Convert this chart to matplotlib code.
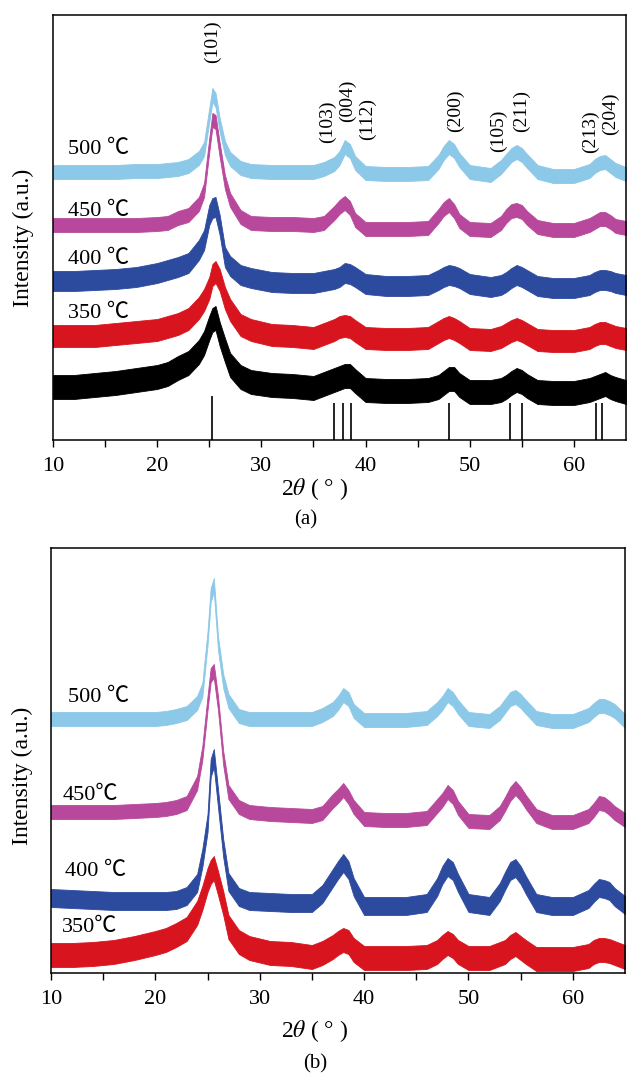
import matplotlib
matplotlib.use("Agg")
import matplotlib.pyplot as plt
import numpy as np

plt.rcParams['font.family'] = ['Liberation Serif', 'Noto Sans CJK SC']
plt.rcParams['mathtext.fontset'] = 'stix'

two_theta = [10, 12, 14, 16, 18, 20, 21, 22, 23, 24, 24.5, 25, 25.3, 25.6, 26,
             26.5, 27, 28, 29, 31, 33, 35, 36, 37, 37.5, 38, 38.5, 39, 40, 42,
             44, 46, 47, 47.5, 48, 48.5, 49, 50, 52, 53, 53.5, 54, 54.5, 55,
             55.5, 56.5, 58, 60, 61.5, 62, 62.5, 63, 63.5, 64, 65]

# panel (a): stacked traces (a.u., offsets included), mid line of the noisy band
a_500 = [268, 268, 268, 268, 269, 269, 270, 271, 274, 282, 291, 325, 345, 340, 315,
         292, 281, 272, 269, 268, 268, 268, 271, 276, 282, 293, 289, 277, 267, 266,
         266, 267, 278, 287, 293, 289, 280, 268, 265, 273, 279, 285, 288, 285,
         279, 268, 264, 264, 269, 274, 277, 278, 274, 270, 266]
a_450 = [215, 215, 215, 215, 215, 216, 217, 222, 225, 236, 250, 295, 320, 318, 290,
         258, 240, 223, 217, 216, 216, 215, 217, 227, 233, 237, 232, 220, 211, 211,
         211, 212, 224, 231, 235, 229, 219, 211, 210, 217, 224, 229, 230, 228,
         222, 213, 210, 210, 215, 218, 221, 221, 218, 214, 212]
a_400 = [159, 159, 160, 161, 163, 167, 170, 173, 177, 190, 200, 225, 232, 233, 215,
         183, 174, 165, 162, 158, 157, 157, 159, 161, 163, 167, 166, 163, 156, 154,
         154, 155, 160, 163, 165, 164, 162, 156, 153, 155, 158, 162, 165, 163,
         160, 154, 152, 152, 155, 158, 160, 160, 159, 157, 155]
a_350 = [104, 104, 104, 106, 108, 110, 113, 116, 121, 132, 140, 152, 165, 168, 160,
         142, 130, 115, 110, 105, 104, 102, 106, 110, 113, 114, 113, 109, 102, 101,
         101, 102, 108, 111, 113, 111, 108, 101, 100, 103, 106, 109, 111, 109,
         106, 100, 99, 99, 102, 105, 107, 107, 105, 103, 101]
a_raw = [53, 53, 55, 57, 60, 63, 66, 72, 77, 88, 97, 112, 120, 122, 106,
         90, 75, 63, 58, 55, 54, 52, 56, 60, 62, 64, 64, 59, 50, 49,
         49, 50, 53, 57, 61, 61, 55, 48, 48, 50, 53, 57, 60, 58,
         54, 48, 47, 47, 50, 52, 54, 56, 53, 51, 48]

# panel (b)
b_500 = [254, 254, 254, 254, 254, 254, 255, 257, 260, 270, 283, 335, 378, 388, 330,
         292, 272, 257, 254, 254, 254, 254, 258, 264, 270, 278, 274, 262, 253, 253,
         253, 255, 264, 270, 278, 274, 266, 254, 252, 260, 267, 274, 276, 272,
         266, 255, 252, 252, 258, 263, 267, 267, 265, 262, 252]
b_450 = [161, 161, 161, 161, 162, 163, 164, 166, 170, 190, 220, 270, 298, 302, 270,
         215, 181, 166, 161, 159, 158, 157, 160, 172, 177, 183, 176, 166, 154, 153,
         153, 155, 167, 173, 181, 176, 165, 152, 151, 160, 169, 179, 185, 179,
         171, 157, 151, 151, 157, 163, 170, 169, 165, 160, 153]
b_400 = [75, 74, 73, 72, 72, 72, 72, 73, 77, 90, 115, 150, 205, 215, 175,
         125, 91, 76, 72, 71, 70, 70, 79, 95, 103, 110, 103, 86, 67, 67,
         67, 70, 86, 98, 106, 102, 90, 70, 67, 81, 92, 102, 105, 98,
         88, 70, 67, 67, 74, 80, 85, 84, 82, 76, 68]
b_350 = [18, 18, 19, 21, 25, 30, 33, 38, 44, 60, 75, 93, 101, 105, 90,
         70, 46, 31, 25, 20, 19, 16, 20, 26, 30, 33, 31, 23, 15, 15,
         15, 16, 21, 26, 30, 27, 21, 15, 15, 19, 21, 26, 29, 25,
         21, 14, 14, 14, 17, 21, 23, 23, 22, 20, 16]

# half height of the noise band of each trace
a_noise = [7, 7, 10, 11, 12]
b_noise = [7, 7, 9, 12]

# anatase reference pattern
ref_pos = [25.28, 36.95, 37.80, 38.58, 48.05, 53.89, 55.06, 62.12, 62.69]
ref_height = [44, 37, 37, 37, 37, 37, 37, 37, 37]
hkl = ['(101)', '(103)', '(004)', '(112)', '(200)', '(105)', '(211)', '(213)', '(204)']
hkl_xy = [(25.3, 398), (36.3, 318), (38.3, 339), (40.2, 321), (48.6, 329),
          (52.8, 309), (55.0, 329), (61.6, 308), (63.5, 326)]

colors = ['#8cc8e8', '#b8489b', '#2c4a9e', '#d8141e', '#000000']
a_labels = ['500 ℃', '450 ℃', '400 ℃', '350 ℃']
a_label_xy = [(11.45, 290), (11.45, 229), (11.45, 180), (11.45, 127)]
b_labels = ['500 ℃', '450℃', '400 ℃', '350℃']
b_label_xy = [(11.6, 276), (11.15, 178), (11.35, 102), (11.05, 46)]

W, H = 627, 1077
fig = plt.figure(figsize=(W / 100, H / 100), dpi=100)
ax_a = fig.add_axes([53 / W, 1 - 440 / H, 573 / W, 425 / H])
ax_b = fig.add_axes([51 / W, 1 - 973 / H, 574 / W, 425 / H])

x = np.array(two_theta)


def draw_trace(ax, vals, half, color):
    y = np.array(vals, dtype=float)
    ax.fill_between(x, y - half, y + half, color=color, lw=0.6, edgecolor=color)


for vals, half, c in zip([a_500, a_450, a_400, a_350, a_raw], a_noise, colors):
    draw_trace(ax_a, vals, half, c)
for vals, half, c in zip([b_500, b_450, b_400, b_350], b_noise, colors):
    draw_trace(ax_b, vals, half, c)

ax_a.vlines(ref_pos, 0, ref_height, color='black', lw=1.2)
for t, (px, py) in zip(hkl, hkl_xy):
    ax_a.text(px, py, t, rotation=90, ha='center', va='center', fontsize=14)

for t, (px, py) in zip(a_labels, a_label_xy):
    ax_a.text(px, py, t, ha='left', va='center', fontsize=16)
for t, (px, py) in zip(b_labels, b_label_xy):
    ax_b.text(px, py, t, ha='left', va='center', fontsize=16)

for ax in (ax_a, ax_b):
    ax.set_xlim(10, 65)
    ax.set_ylim(0, 425)
    ax.set_yticks([])
    ax.set_xticks([10, 20, 30, 40, 50, 60])
    ax.set_xticks([15, 25, 35, 45, 55], minor=True)
    ax.tick_params(axis='x', which='both', direction='out', length=5, width=1,
                   pad=7, labelsize=16)
    for s in ax.spines.values():
        s.set_linewidth(1.1)

fig.text(23 / W, 1 - 238 / H, 'Intensity (a.u.)', rotation=90, ha='center',
         va='center', fontsize=17)
fig.text(22 / W, 1 - 776 / H, 'Intensity (a.u.)', rotation=90, ha='center',
         va='center', fontsize=17)
fig.text(315 / W, 1 - 489 / H, r'2$\theta$ ( ° )', ha='center', va='center', fontsize=17)
fig.text(306 / W, 1 - 520 / H, '(a)', ha='center', va='center', fontsize=15)
fig.text(315 / W, 1 - 1031 / H, r'2$\theta$ ( ° )', ha='center', va='center', fontsize=17)
fig.text(315 / W, 1 - 1064 / H, '(b)', ha='center', va='center', fontsize=15)

fig.savefig('out.png', dpi=100)
